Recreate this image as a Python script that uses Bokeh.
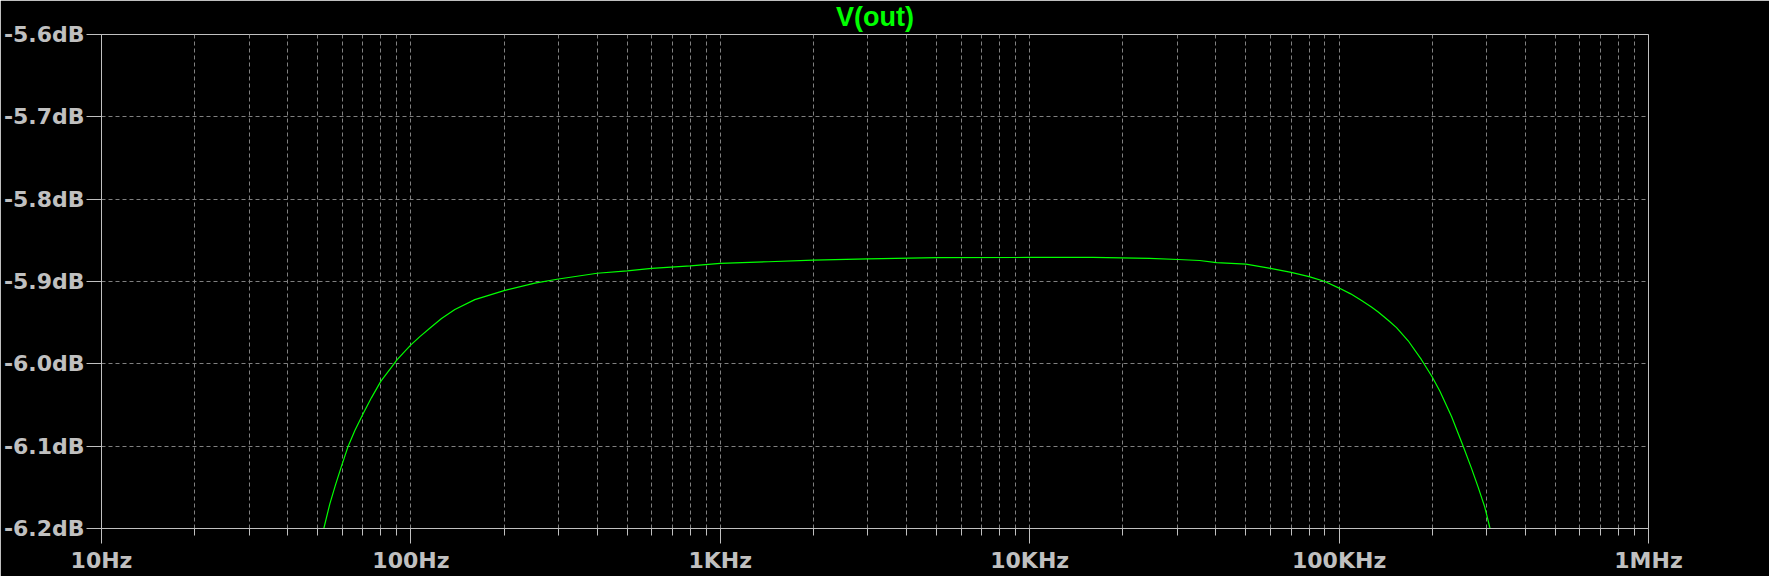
from bokeh.plotting import figure
from bokeh.models import FixedTicker, PrintfTickFormatter, ColumnDataSource
from bokeh.embed import file_html
from bokeh.resources import INLINE

# ---- data ----
freq_hz = [52.3, 54.7, 57.05, 59.7, 62.7, 65.9, 70.2, 74.6, 80, 86.6, 90, 94.4, 100,
           106.9, 116.6, 125.6, 138.7, 160.9, 200, 251.5, 300, 400, 500, 600, 800,
           1000, 1430, 2000, 3000, 5000, 10000, 16000, 24400, 30200, 35400, 40200,
           50000, 60000, 70000, 80000, 90000, 100000, 109000, 118200, 127200,
           133800, 144100, 153300, 167200, 184600, 200000, 211600, 230900, 251800,
           267900, 281600, 295700, 307500]
vout_db = [-6.200, -6.170, -6.147, -6.124, -6.100, -6.081, -6.060, -6.041, -6.021,
           -6.004, -5.9955, -5.987, -5.977, -5.967, -5.955, -5.945, -5.934, -5.922,
           -5.911, -5.902, -5.897, -5.890, -5.887, -5.884, -5.881, -5.878, -5.876,
           -5.874, -5.8725, -5.871, -5.8708, -5.8708, -5.872, -5.8733, -5.8745,
           -5.877, -5.879, -5.884, -5.889, -5.894, -5.900, -5.908, -5.915, -5.923,
           -5.931, -5.937, -5.947, -5.956, -5.972, -5.995, -6.016, -6.033, -6.064,
           -6.100, -6.127, -6.150, -6.174, -6.200]

x_major = [10, 100, 1000, 10000, 100000, 1000000]
x_labels = ["10Hz", "100Hz", "1KHz", "10KHz", "100KHz", "1MHz"]
x_minor = [m * d for d in x_major[:-1] for m in range(2, 10)]
y_ticks = [-6.2, -6.1, -6.0, -5.9, -5.8, -5.7, -5.6]
title_text = "V(out)"

FG = "#c0c0c0"
GRID = "#808080"
GREEN = "#00ff00"
TITLE_FONT = "Liberation Sans"
TICK_FONT = "DejaVu Sans"

p = figure(frame_width=1547, frame_height=494, x_axis_type="log",
           x_range=(10, 1000000), y_range=(-6.2, -5.6),
           output_backend="svg", toolbar_location=None,
           min_border_left=100, min_border_right=122, min_border_top=34,
           min_border_bottom=48,
           background_fill_color="black", border_fill_color="black",
           outline_line_color=FG, outline_line_width=1)

src = ColumnDataSource(dict(f=freq_hz, db=vout_db))
p.line("f", "db", source=src, line_color=GREEN, line_width=1.2)

# title
p.title.text = title_text
p.title.align = "center"
p.title.vertical_align = "top"
p.title.standoff = 1
p.title.text_color = GREEN
p.title.text_font = TITLE_FONT
p.title.text_font_style = "bold"
p.title.text_font_size = "27px"

# x axis
xa = p.xaxis[0]
xa.ticker = FixedTicker(ticks=x_major, minor_ticks=x_minor)
xa.major_label_overrides = {t: l for t, l in zip(x_major, x_labels)}
xa.axis_line_color = FG
xa.major_tick_line_color = FG
xa.minor_tick_line_color = FG
xa.major_tick_in = 0
xa.major_tick_out = 15
xa.minor_tick_in = 0
xa.minor_tick_out = 7
xa.major_label_text_color = FG
xa.major_label_text_font = TICK_FONT
xa.major_label_text_font_style = "bold"
xa.major_label_text_font_size = "22px"
xa.major_label_standoff = 4

# y axis
ya = p.yaxis[0]
ya.ticker = FixedTicker(ticks=y_ticks)
ya.formatter = PrintfTickFormatter(format="%.1fdB")
ya.axis_line_color = FG
ya.major_tick_line_color = FG
ya.minor_tick_line_color = None
ya.major_tick_in = 0
ya.major_tick_out = 15
ya.major_label_text_color = FG
ya.major_label_text_font = TICK_FONT
ya.major_label_text_font_style = "bold"
ya.major_label_text_font_size = "22px"
ya.major_label_standoff = 2

# grids
p.xgrid.grid_line_color = GRID
p.xgrid.grid_line_dash = "4 3"
p.xgrid.minor_grid_line_color = GRID
p.xgrid.minor_grid_line_dash = "4 3"
p.ygrid.grid_line_color = GRID
p.ygrid.grid_line_dash = "4 3"

open("out.html", "w").write(file_html(p, INLINE))
